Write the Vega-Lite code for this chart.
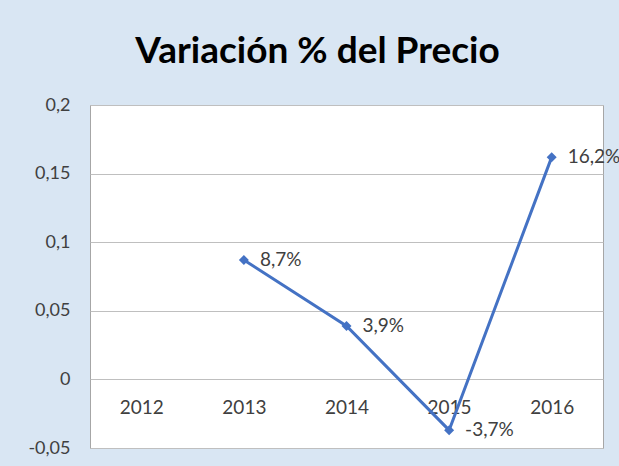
{
  "$schema": "https://vega.github.io/schema/vega-lite/v6.json",
  "width": 513,
  "height": 343,
  "autosize": {"type": "none"},
  "padding": {"left": 90, "top": 105, "right": 16, "bottom": 18},
  "background": "#d9e6f3",
  "config": {
    "locale": {"number": {"decimal": ",", "thousands": ".", "grouping": [3], "currency": ["", " €"], "minus": "-"}},
    "view": {"fill": "white", "stroke": "#a6a6a6", "strokeWidth": 1},
    "font": "Lato"
  },
  "title": {
    "text": "Variación % del Precio",
    "fontSize": 37,
    "fontWeight": "bold",
    "font": "Lato",
    "color": "#000000",
    "anchor": "middle",
    "dx": -29,
    "offset": 25
  },
  "data": {
    "values": [
      {"anio": "2013", "variacion": 0.087},
      {"anio": "2014", "variacion": 0.039},
      {"anio": "2015", "variacion": -0.037},
      {"anio": "2016", "variacion": 0.162}
    ]
  },
  "encoding": {
    "x": {
      "field": "anio",
      "type": "ordinal",
      "scale": {"domain": ["2012", "2013", "2014", "2015", "2016"]},
      "axis": {
        "title": null,
        "labelAngle": 0,
        "domain": false,
        "ticks": false,
        "grid": false,
        "offset": -68.6,
        "labelPadding": 19,
        "labelFontSize": 19,
        "labelColor": "#404040",
        "labelFont": "Lato"
      }
    },
    "y": {
      "field": "variacion",
      "type": "quantitative",
      "scale": {"domain": [-0.05, 0.2], "nice": false, "zero": false},
      "axis": {
        "title": null,
        "values": [-0.05, 0, 0.05, 0.1, 0.15, 0.2],
        "format": "~g",
        "domain": false,
        "ticks": false,
        "grid": true,
        "gridColor": "#bfbfbf",
        "gridWidth": 1,
        "labelPadding": 20,
        "labelFontSize": 18,
        "labelColor": "#404040",
        "labelFont": "Lato"
      }
    }
  },
  "layer": [
    {"mark": {"type": "line", "color": "#4472c4", "strokeWidth": 3}},
    {"mark": {"type": "point", "shape": "diamond", "filled": true, "color": "#4472c4", "size": 100, "opacity": 1}},
    {
      "mark": {"type": "text", "align": "left", "baseline": "middle", "dx": 16, "fontSize": 19, "color": "#404040", "font": "Lato"},
      "encoding": {"text": {"field": "variacion", "type": "quantitative", "format": ".1%"}}
    }
  ]
}
